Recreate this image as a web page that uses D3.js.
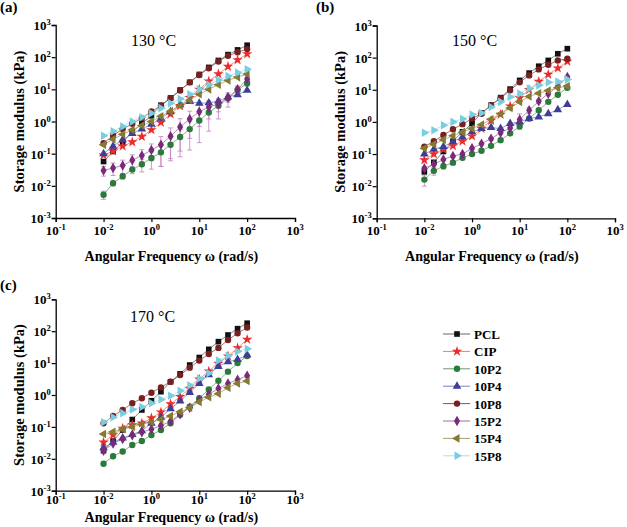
<!DOCTYPE html>
<html><head><meta charset="utf-8">
<script src="https://cdn.jsdelivr.net/npm/d3@7"></script>
<style>body{margin:0;background:#fff}svg{display:block}</style>
</head><body>
<svg id="c" width="627" height="527"></svg>
<script>
// ---- data ----
const freq = [0.1, 0.158, 0.251, 0.398, 0.631, 1, 1.58, 2.51, 3.98, 6.31, 10, 15.8, 25.1, 39.8, 63.1, 100];
const seriesNames = ["PCL", "CIP", "10P2", "10P4", "10P8", "15P2", "15P4", "15P8"];
const xTickValues = [0.01, 0.1, 1, 10, 100, 1000];
const xTickExp = ["-1", "-2", "0", "1", "2", "3"];
const yTickValues = [0.001, 0.01, 0.1, 1, 10, 100, 1000];
const yTickExp = ["-3", "-2", "-1", "0", "1", "2", "3"];
const panelLabels = ["(a)", "(b)", "(c)"];
const temps = ["130 °C", "150 °C", "170 °C"];

// 130 °C
const pcl130  = [0.057, 0.117, 0.23, 0.47, 0.88, 1.5, 3.2, 5.4, 9.5, 16.5, 29, 48, 79, 120, 168, 235];
const cip130  = [0.09, 0.12, 0.17, 0.23, 0.34, 0.55, 0.93, 1.7, 3.1, 5.5, 10, 18, 30, 51, 82, 126];
const p10p2_130 = [0.0053, 0.012, 0.020, 0.032, 0.047, 0.073, 0.11, 0.19, 0.33, 0.58, 1.07, 1.9, 3.1, 5.3, 9.6, 15.5];
const p10p4_130 = [0.1, 0.17, 0.27, 0.42, 0.58, 0.82, 1.25, 2.0, 3.3, 4.2, 3.7, 3.8, 4.3, 5.8, 6.8, 9.3];
const p10p8_130 = [0.21, 0.37, 0.58, 0.85, 1.27, 2.05, 3.1, 5.3, 9.2, 16.5, 28, 45, 73, 110, 142, 178];
const p15p2_130 = [0.030, 0.036, 0.043, 0.062, 0.088, 0.13, 0.19, 0.35, 0.67, 1.2, 2.0, 2.8, 3.5, 5.5, 10, 21];
const p15p4_130 = [0.19, 0.28, 0.4, 0.55, 0.75, 1.0, 1.45, 2.1, 3.1, 4.6, 7, 10, 14, 19, 24, 30];
const p15p8_130 = [0.36, 0.5, 0.7, 1.0, 1.35, 1.8, 2.6, 3.7, 5.0, 7.0, 10, 14, 19.5, 26, 33, 42];
const err10p2_130 = [0.0015, 0.002, 0.004, 0.008, 0.02, 0.04, 0.07, 0.13, 0.25, 0.45, 0.85, 1.4, 1.9, 2.5, 3, 3];
const err15p2_130 = [0.01, 0.015, 0.02, 0.03, 0.045, 0.07, 0.15, 0.28, 0.55, 0.9, 1.3, 1.6, 1.5, 1.5, 2, 3];

// 150 °C
const pcl150  = [0.028, 0.055, 0.12, 0.25, 0.49, 0.89, 1.9, 3.3, 5.7, 10.5, 19.6, 33, 54, 82, 132, 190];
const cip150  = [0.065, 0.1, 0.14, 0.18, 0.25, 0.36, 0.62, 1.1, 1.7, 3.1, 5.6, 10, 18, 30, 47, 76];
const p10p2_150 = [0.016, 0.030, 0.042, 0.054, 0.076, 0.1, 0.126, 0.18, 0.27, 0.44, 0.73, 1.27, 2.3, 4.2, 7.0, 11.6];
const p10p4_150 = [0.1, 0.14, 0.17, 0.24, 0.34, 0.49, 0.62, 0.67, 0.62, 0.89, 1.0, 1.27, 1.43, 1.8, 2.4, 3.5];
const p10p8_150 = [0.17, 0.25, 0.39, 0.59, 0.85, 1.27, 1.8, 3.3, 5.5, 9.6, 17, 28, 43, 60, 82, 92];
const p15p2_150 = [0.036, 0.048, 0.068, 0.086, 0.1, 0.15, 0.21, 0.3, 0.46, 0.65, 1.18, 2.3, 4.4, 7.5, 12.8, 25];
const p15p4_150 = [0.15, 0.2, 0.28, 0.37, 0.48, 0.62, 0.82, 1.2, 1.8, 2.7, 4.2, 6.2, 7.8, 9.5, 11.5, 13];
const p15p8_150 = [0.46, 0.55, 0.79, 1.0, 1.24, 1.7, 1.9, 2.9, 4.2, 6.0, 7.6, 11, 13.7, 17, 18, 21];
const err10p2_150 = [0.006, 0.008, 0.008, 0.008, 0.01, 0.01, 0.01, 0.01, 0.02, 0.03, 0.05, 0.2, 0.2, 0.3, 0.5, 0.8];
const err15p2_150 = [0.004, 0.005, 0.006, 0.008, 0.01, 0.015, 0.02, 0.03, 0.04, 0.06, 0.6, 0.5, 0.6, 0.8, 1, 3];

// 170 °C
const pcl170  = [0.018, 0.036, 0.08, 0.17, 0.34, 0.66, 1.27, 2.6, 4.6, 8.7, 15, 27, 47, 76, 120, 178];
const cip170  = [0.033, 0.056, 0.09, 0.115, 0.13, 0.19, 0.29, 0.52, 0.89, 1.6, 3.1, 5.6, 9.8, 16.6, 30, 55];
const p10p2_170 = [0.007, 0.012, 0.017, 0.027, 0.036, 0.056, 0.08, 0.13, 0.24, 0.43, 0.79, 1.5, 2.8, 5.4, 10, 16.6];
const p10p4_170 = [0.022, 0.033, 0.045, 0.058, 0.075, 0.13, 0.2, 0.37, 0.65, 1.2, 2.3, 4.3, 7.8, 11, 13, 18];
const p10p8_170 = [0.13, 0.22, 0.34, 0.55, 0.79, 1.18, 1.74, 2.6, 4.2, 7.2, 12, 19.3, 30, 53, 86, 130];
const p15p2_170 = [0.018, 0.03, 0.042, 0.055, 0.068, 0.085, 0.11, 0.15, 0.25, 0.4, 0.7, 1.05, 1.6, 2.3, 3.0, 4.0];
const p15p4_170 = [0.06, 0.07, 0.085, 0.1, 0.12, 0.14, 0.17, 0.22, 0.3, 0.4, 0.6, 0.85, 1.1, 1.7, 2.3, 2.75];
const p15p8_170 = [0.14, 0.2, 0.27, 0.35, 0.42, 0.55, 0.72, 0.95, 1.35, 2.0, 3.3, 4.8, 12, 17, 23, 28];

// ---- styles ----
const markerColors = ["#111111", "#ee2a2a", "#2a7a3a", "#3e3e96", "#7a1f1f", "#7a2a7a", "#857a32", "#78cde0"];
const lineColors   = ["#666666", "#f07a6a", "#6a9a70", "#8080c0", "#8a5050", "#a070a0", "#a8a070", "#a8e0ea"];
const symbolTypes  = [d3.symbolSquare, d3.symbolStar, d3.symbolCircle, d3.symbolTriangle, d3.symbolCircle, d3.symbolDiamond, d3.symbolTriangle, d3.symbolTriangle];
const symbolRot    = [0, 0, 0, 0, 0, 0, -90, 90];
const symbolSize   = [32, 34, 32, 32, 32, 32, 32, 32];

const panels = [
  { x0: 55.7, x1: 295, y0: 25, y1: 218, data: [pcl130, cip130, p10p2_130, p10p4_130, p10p8_130, p15p2_130, p15p4_130, p15p8_130],
    errs: { 2: err10p2_130, 5: err15p2_130 }, lab: [0, 12], temp: [131, 46], xl: 235, xt: 261 },
  { x0: 376.7, x1: 615, y0: 25.5, y1: 218.3, data: [pcl150, cip150, p10p2_150, p10p4_150, p10p8_150, p15p2_150, p15p4_150, p15p8_150],
    errs: { 2: err10p2_150, 5: err15p2_150 }, lab: [316, 12], temp: [452, 46], xl: 235, xt: 261 },
  { x0: 55.7, x1: 295, y0: 299.3, y1: 490.7, data: [pcl170, cip170, p10p2_170, p10p4_170, p10p8_170, p15p2_170, p15p4_170, p15p8_170],
    errs: {}, lab: [0, 290], temp: [130, 322], xl: 504, xt: 522 }
];

const svg = d3.select("#c");
const font = "'Liberation Serif','Times New Roman',serif";

function sup(sel, exp, supSize) {
  sel.append("tspan").text("10");
  sel.append("tspan").attr("dy", -5).attr("font-size", supSize).text(exp);
}

panels.forEach((p, pi) => {
  const x = d3.scaleLog().domain([0.01, 1000]).range([p.x0, p.x1]);
  const y = d3.scaleLog().domain([0.001, 1000]).range([p.y1, p.y0]);
  const g = svg.append("g");

  const xa = d3.axisBottom(x).tickValues(xTickValues).tickSize(4).tickFormat("");
  const ya = d3.axisLeft(y).tickValues(yTickValues).tickSize(4).tickFormat("");
  const gx = g.append("g").attr("transform", `translate(0,${p.y1})`).call(xa);
  const gy = g.append("g").attr("transform", `translate(${p.x0},0)`).call(ya);
  [gx, gy].forEach(a => { a.select(".domain").attr("stroke", "#000").attr("stroke-width", 1.3);
    a.selectAll(".tick line").attr("stroke", "#000").attr("stroke-width", 1.2); });

  xTickValues.forEach((v, i) => {
    const t = g.append("text").attr("x", x(v)).attr("y", p.xl).attr("text-anchor", "middle")
      .attr("font-family", font).attr("font-weight", "bold").attr("font-size", 13);
    sup(t, xTickExp[i], 8.5);
  });
  yTickValues.forEach((v, i) => {
    const t = g.append("text").attr("x", p.x0 - 5).attr("y", y(v) + 5).attr("text-anchor", "end")
      .attr("font-family", font).attr("font-weight", "bold").attr("font-size", 13);
    sup(t, yTickExp[i], 8.5);
  });

  g.append("text").attr("x", (p.x0 + p.x1) / 2 - 4).attr("y", p.xt).attr("text-anchor", "middle")
    .attr("font-family", font).attr("font-weight", "bold").attr("font-size", 14)
    .text("Angular Frequency ω (rad/s)");
  g.append("text").attr("transform", `translate(${p.x0 - 32},${(p.y0 + p.y1) / 2}) rotate(-90)`)
    .attr("text-anchor", "middle").attr("font-family", font).attr("font-weight", "bold").attr("font-size", 14.5)
    .text("Storage modulus (kPa)");
  g.append("text").attr("x", p.lab[0]).attr("y", p.lab[1]).attr("font-family", font).attr("font-weight", "bold")
    .attr("font-size", 15).text(panelLabels[pi]);
  g.append("text").attr("x", p.temp[0]).attr("y", p.temp[1]).attr("font-family", font)
    .attr("font-size", 16).text(temps[pi]);

  const line = d3.line().x((d, i) => x(freq[i])).y(d => y(d));

  Object.keys(p.errs).forEach(si => {
    const vals = p.data[si], e = p.errs[si];
    vals.forEach((v, i) => {
      const lo = Math.max(v - e[i], 0.001), hi = v + e[i];
      const cx = x(freq[i]);
      g.append("line").attr("x1", cx).attr("x2", cx).attr("y1", y(lo)).attr("y2", y(hi))
        .attr("stroke", "#c080c0").attr("stroke-width", 0.8);
      [lo, hi].forEach(b => g.append("line").attr("x1", cx - 2.5).attr("x2", cx + 2.5).attr("y1", y(b)).attr("y2", y(b))
        .attr("stroke", "#c080c0").attr("stroke-width", 0.8));
    });
  });

  p.data.forEach((vals, si) => {
    g.append("path").attr("d", line(vals)).attr("fill", "none").attr("stroke", lineColors[si]).attr("stroke-width", 0.8);
  });
  p.data.forEach((vals, si) => {
    const sym = d3.symbol().type(symbolTypes[si]).size(symbolSize[si]);
    g.selectAll(null).data(vals).join("path")
      .attr("transform", (d, i) => `translate(${x(freq[i])},${y(d)}) rotate(${symbolRot[si]})`)
      .attr("d", sym).attr("fill", markerColors[si]);
  });
});

// legend
const lg = svg.append("g");
seriesNames.forEach((n, i) => {
  const yy = 334 + i * 17.4;
  lg.append("line").attr("x1", 443).attr("x2", 470).attr("y1", yy).attr("y2", yy)
    .attr("stroke", lineColors[i]).attr("stroke-width", 1);
  lg.append("path").attr("transform", `translate(457,${yy}) rotate(${symbolRot[i]})`)
    .attr("d", d3.symbol().type(symbolTypes[i]).size(symbolSize[i])).attr("fill", markerColors[i]);
  lg.append("text").attr("x", 474).attr("y", yy + 5).attr("font-family", font).attr("font-weight", "bold")
    .attr("font-size", 13).text(n);
});
</script>
</body></html>
